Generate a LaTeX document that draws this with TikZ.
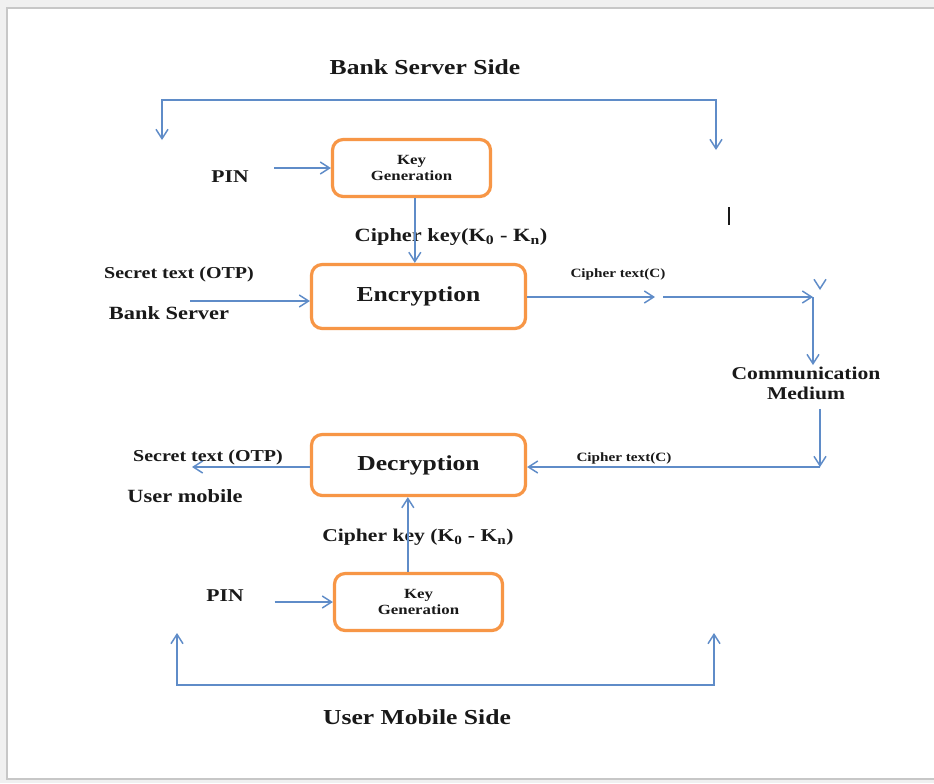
\documentclass[tikz,border=0pt]{standalone}
\usepackage{fontspec}
\setmainfont{Liberation Serif}[FakeStretch=1.2]
\usetikzlibrary{positioning,arrows.meta}
\definecolor{lineblue}{RGB}{95,140,200}
\definecolor{boxorange}{RGB}{247,150,70}
\definecolor{inkdark}{RGB}{25,25,25}
\tikzset{barb/.tip={Straight Barb[length=7pt,width=9pt]}}

\begin{document}
\begin{tikzpicture}[x=0.75pt,y=-0.75pt,
    block/.style={draw=boxorange,line width=2.4pt,rounded corners=8pt,fill=white,align=center,text=inkdark},
    conn/.style={draw=lineblue,line width=1.1pt,-barb},
    lbl/.style={text=inkdark,inner sep=1pt,align=center}]

    \useasboundingbox (0,0) rectangle (934,783);
    \fill[black!6] (0,0) rectangle (934,783);
    \fill[white] (7,8) rectangle (934,779);
    \draw[black!22,line width=1.5pt] (934,8) -- (7,8) -- (7,779) -- (934,779);

    % boxes
    \node[block,minimum width=118.5pt,minimum height=42.75pt,font=\bfseries\fontsize{10.5}{12.5}\selectfont] (kgS) at (411.5,168) {Key\\Generation};
    \node[block,minimum width=160.5pt,minimum height=48pt,font=\bfseries\fontsize{16}{18}\selectfont] (enc) at (418.5,296.5) {Encryption};
    \node[block,minimum width=160.5pt,minimum height=45.75pt,font=\bfseries\fontsize{16}{18}\selectfont] (dec) at (418.5,465) {Decryption};
    \node[block,minimum width=126pt,minimum height=42.75pt,font=\bfseries\fontsize{10.5}{12.5}\selectfont] (kgU) at (418.5,602) {Key\\Generation};

    % texts
    \node[lbl,font=\bfseries\fontsize{16}{18}\selectfont] (titleS) at (425,67) {Bank Server Side};
    \node[lbl,font=\bfseries\fontsize{13.5}{15}\selectfont] (pinS) at (230,177) {PIN};
    \node[lbl,font=\bfseries\fontsize{14}{16}\selectfont] (ckS) at (451,237) {Cipher key(K\textsubscript{0} - K\textsubscript{n})};
    \node[lbl,font=\bfseries\fontsize{12.5}{14}\selectfont] (secS) at (179,274) {Secret text (OTP)};
    \node[lbl,font=\bfseries\fontsize{14}{16}\selectfont] (bankS) at (169,313) {Bank Server};
    \node[lbl,font=\bfseries\fontsize{9.5}{11}\selectfont] (ctS) at (618,274) {Cipher text(C)};
    \node[lbl,font=\bfseries\fontsize{13.5}{15}\selectfont] (comm) at (806,383) {Communication\\Medium};
    \node[lbl,font=\bfseries\fontsize{9.5}{11}\selectfont] (ctU) at (624,458) {Cipher text(C)};
    \node[lbl,font=\bfseries\fontsize{12.5}{14}\selectfont] (secU) at (208,457) {Secret text (OTP)};
    \node[lbl,font=\bfseries\fontsize{14}{16}\selectfont] (userU) at (185,496) {User mobile};
    \node[lbl,font=\bfseries\fontsize{13.5}{16}\selectfont] (ckU) at (418,537) {Cipher key (K\textsubscript{0} - K\textsubscript{n})};
    \node[lbl,font=\bfseries\fontsize{13.5}{15}\selectfont] (pinU) at (225,596) {PIN};
    \node[lbl,font=\bfseries\fontsize{16}{18}\selectfont] (titleU) at (417,717) {User Mobile Side};

    \draw[inkdark,line width=2pt] (729,207) -- (729,225);

    % free ends
    \coordinate (sbL) at (162,140);
    \coordinate (sbTop) at (440,100);
    \coordinate (sbR) at (716,150);
    \coordinate (inS) at (190,301);
    \coordinate (ctMid) at (659,297);
    \coordinate (cornerS) at (813,297);
    \coordinate (tipC) at (820,290);
    \coordinate (cornerU) at (820,467);
    \coordinate (outU) at (192,467);
    \coordinate (ubL) at (177,633);
    \coordinate (ubBot) at (445,685);
    \coordinate (ubR) at (714,633);

    % bank server side
    \draw[conn,barb-barb] (sbL) |- (sbTop) -| (sbR);
    \draw[conn,shorten <=18pt] (pinS.east |- kgS.west) -- (kgS.west);
    \draw[conn] ([xshift=2.5pt]kgS.south) -- ([xshift=2.5pt]kgS.south |- enc.north);
    \draw[conn] (inS) -- (inS -| enc.west);
    \draw[conn,shorten >=3pt] (enc.east |- ctMid) -- (ctMid);
    \draw[conn,shorten <=3pt] (ctMid) -- (cornerS);
    \draw[conn] ([yshift=2pt]tipC) -- (tipC);

    % medium
    \draw[conn] (cornerS) -- (cornerS |- comm.north);
    \draw[conn,shorten <=6pt] (comm.south -| cornerU) -- (cornerU);
    \draw[conn] (cornerU) -- (cornerU -| dec.east);

    % user mobile side
    \draw[conn] (dec.west |- outU) -- (outU);
    \draw[conn] ([xshift=-8pt]kgU.north) -- ([xshift=-8pt]kgU.north |- dec.south);
    \draw[conn,shorten <=22pt] (pinU.east |- kgU.west) -- (kgU.west);
    \draw[conn,barb-barb] (ubL) |- (ubBot) -| (ubR);

\end{tikzpicture}
\end{document}
